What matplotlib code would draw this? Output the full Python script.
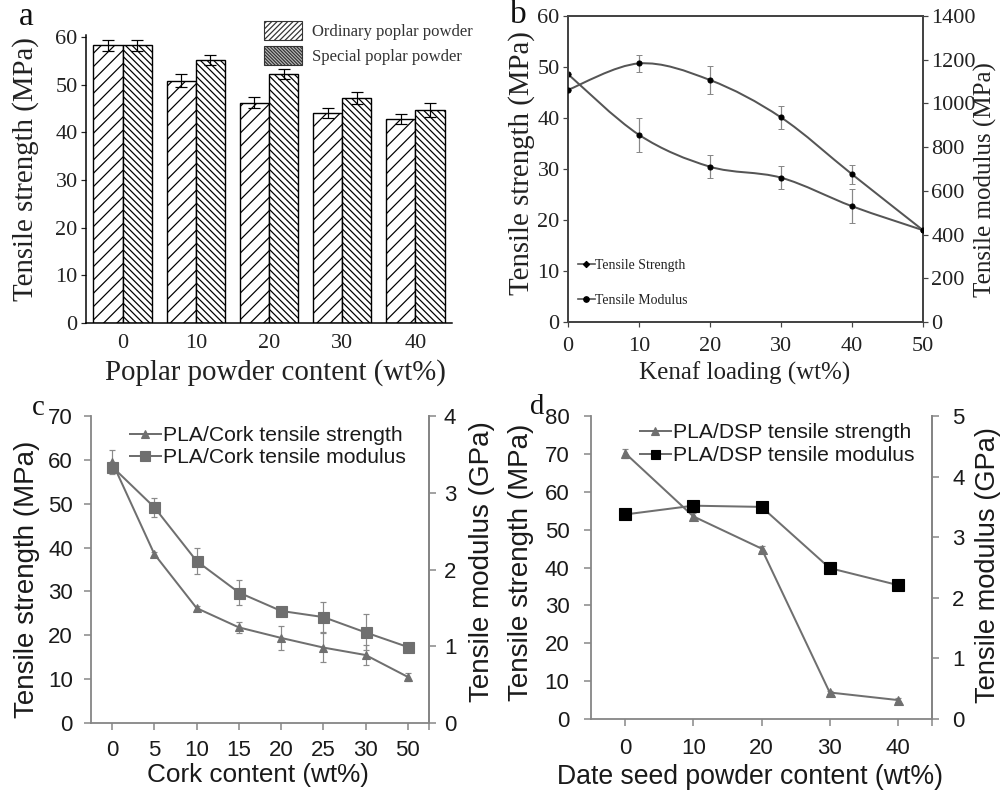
import numpy as np
import matplotlib
matplotlib.use("Agg")
import matplotlib.pyplot as plt
from matplotlib.path import Path
from matplotlib.patches import PathPatch, Patch
from matplotlib.lines import Line2D

# ---------------- data ----------------
# (a) poplar powder
a_categories = ["0", "10", "20", "30", "40"]
a_ordinary = [58.2, 50.8, 46.2, 44.0, 42.8]
a_ordinary_err = [1.2, 1.4, 1.2, 1.1, 1.0]
a_special = [58.2, 55.2, 52.2, 47.2, 44.7]
a_special_err = [1.2, 1.0, 1.0, 1.3, 1.4]
a_yticks = [0, 10, 20, 30, 40, 50, 60]

# (b) kenaf
b_x = [0, 10, 20, 30, 40, 50]
b_strength = [48.6, 36.7, 30.45, 28.3, 22.7, 18.0]
b_strength_err = [0, 3.3, 2.3, 2.3, 3.3, 0]
b_modulus = [1062, 1183, 1107, 936, 676, 420]
b_modulus_err = [0, 37, 65, 51, 44, 0]
b_xticks = [0, 10, 20, 30, 40, 50]
b_yticks = [0, 10, 20, 30, 40, 50, 60]
b_y2ticks = [0, 200, 400, 600, 800, 1000, 1200, 1400]

# (c) cork
c_categories = ["0", "5", "10", "15", "20", "25", "30", "50"]
c_strength = [59.5, 38.5, 26.2, 21.8, 19.4, 17.2, 15.5, 10.5]
c_strength_err = [2.8, 0.5, 0.5, 1.3, 2.7, 3.4, 2.3, 1.0]
c_modulus = [3.34, 2.81, 2.11, 1.70, 1.46, 1.38, 1.18, 0.99]
c_modulus_err = [0.06, 0.125, 0.17, 0.165, 0.045, 0.20, 0.235, 0.035]
c_yticks = [0, 10, 20, 30, 40, 50, 60, 70]
c_y2ticks = [0, 1, 2, 3, 4]

# (d) date seed powder
d_categories = ["0", "10", "20", "30", "40"]
d_strength = [70.2, 53.5, 45.0, 7.0, 5.0]
d_strength_err = [1.2, 0.8, 0.6, 0.5, 0.5]
d_modulus = [3.375, 3.52, 3.50, 2.49, 2.21]
d_yticks = [0, 10, 20, 30, 40, 50, 60, 70, 80]
d_y2ticks = [0, 1, 2, 3, 4, 5]

# ---------------- layout helpers ----------------
W, H, DPI = 1004, 794, 80
PT = 72.0 / DPI  # points per pixel
plt.rcParams["hatch.linewidth"] = 1.1
SERIF = ["Liberation Serif", "DejaVu Serif"]
SANS = ["Liberation Sans", "DejaVu Sans"]

fig = plt.figure(figsize=(W / DPI, H / DPI), dpi=DPI)


def rect(l, t, r, b):
    return [l / W, 1 - b / H, (r - l) / W, (b - t) / H]


def fx(x):
    return x / W


def fy(y):
    return 1 - y / H


def smooth_path(xs, ys):
    """Catmull-Rom curve through the data points, expressed as cubic Beziers."""
    P = np.column_stack([xs, ys]).astype(float)
    n = len(P)
    verts = [tuple(P[0])]
    codes = [Path.MOVETO]
    for i in range(n - 1):
        p0 = P[i - 1] if i > 0 else P[i]
        p1 = P[i]
        p2 = P[i + 1]
        p3 = P[i + 2] if i + 2 < n else P[i + 1]
        c1 = p1 + (p2 - p0) / 6.0
        c2 = p2 - (p3 - p1) / 6.0
        verts += [tuple(c1), tuple(c2), tuple(p2)]
        codes += [Path.CURVE4] * 3
    return Path(verts, codes)


# ================= (a) =================
axa = fig.add_axes(rect(86, 35, 452, 323))
xa = np.arange(len(a_categories))
bw = 0.4
axa.bar(xa - bw / 2, a_ordinary, bw, facecolor="white", edgecolor="black",
        hatch="//", linewidth=1.4 * PT, zorder=2)
axa.bar(xa + bw / 2, a_special, bw, facecolor="white", edgecolor="black",
        hatch="\\" * 4, linewidth=1.4 * PT, zorder=2)
axa.errorbar(xa - bw / 2, a_ordinary, yerr=a_ordinary_err, fmt="none",
             ecolor="black", elinewidth=1.2 * PT, capsize=5, capthick=1.2 * PT, zorder=3)
axa.errorbar(xa + bw / 2, a_special, yerr=a_special_err, fmt="none",
             ecolor="black", elinewidth=1.2 * PT, capsize=5, capthick=1.2 * PT, zorder=3)
axa.set_xlim(-0.5, 4.5)
axa.set_ylim(0, 60.4)
axa.set_xticks(xa)
axa.set_xticklabels(a_categories)
axa.set_yticks(a_yticks)
for s in ["top", "right"]:
    axa.spines[s].set_visible(False)
for s in ["left", "bottom"]:
    axa.spines[s].set_linewidth(1.5 * PT)
axa.tick_params(axis="y", direction="out", length=5 * PT, width=1.2 * PT, pad=3,
                labelsize=20, colors="#222222")
axa.tick_params(axis="x", length=0, pad=10, labelsize=20, colors="#222222")
for lab in axa.get_xticklabels() + axa.get_yticklabels():
    lab.set_family(SERIF)
axa.set_ylabel("Tensile strength (MPa)", family=SERIF, fontsize=26, color="#222222",
               va="center", ha="center")
axa.yaxis.set_label_coords((26 - 86) / 366, (323 - 169) / 288)
axa.set_xlabel("Poplar powder content (wt%)", family=SERIF, fontsize=26, color="#222222",
               va="center", ha="center")
axa.xaxis.set_label_coords((275 - 86) / 366, (323 - 373) / 288)
leg_a = [Patch(facecolor="white", edgecolor="#333333", hatch="/////", linewidth=1.0),
         Patch(facecolor="#bbbbbb", edgecolor="#333333", hatch="\\" * 8, linewidth=1.0)]
la = axa.legend(leg_a, ["Ordinary poplar powder", "Special poplar powder"],
                loc="upper left", bbox_to_anchor=(fx(264), fy(21)),
                bbox_transform=fig.transFigure, frameon=False,
                prop={"family": SERIF, "size": 15}, handlelength=2.3, handleheight=1.4,
                handletextpad=0.6, labelspacing=0.35, borderpad=0, borderaxespad=0)
for t in la.get_texts():
    t.set_color("#333333")

# ================= (b) =================
axb = fig.add_axes(rect(568, 16, 923, 322))
axb2 = axb.twinx()
gray_b = "#555555"
axb.add_patch(PathPatch(smooth_path(b_x, b_strength), facecolor="none",
                        edgecolor=gray_b, linewidth=2.0 * PT, zorder=2))
axb2.add_patch(PathPatch(smooth_path(b_x, b_modulus), facecolor="none",
                         edgecolor=gray_b, linewidth=2.0 * PT, zorder=2))
axb.errorbar(b_x, b_strength, yerr=b_strength_err, fmt="o", color="black",
             markersize=5 * PT, ecolor="#888888", elinewidth=1.2 * PT,
             capsize=2.5, capthick=1.0 * PT, zorder=3)
axb2.errorbar(b_x, b_modulus, yerr=b_modulus_err, fmt="o", color="black",
              markersize=5 * PT, ecolor="#888888", elinewidth=1.2 * PT,
              capsize=2.5, capthick=1.0 * PT, zorder=3)
axb.set_xlim(0, 50)
axb.set_ylim(0, 60)
axb2.set_ylim(0, 1400)
axb.set_xticks(b_xticks)
axb.set_yticks(b_yticks)
axb2.set_yticks(b_y2ticks)
for ax in (axb, axb2):
    for s in ax.spines.values():
        s.set_linewidth(1.8 * PT)
        s.set_color("#444444")
    ax.tick_params(direction="out", length=5 * PT, width=1.2 * PT, colors="#444444",
                   labelcolor="#222222", labelsize=20, pad=3)
    for lab in ax.get_xticklabels() + ax.get_yticklabels():
        lab.set_family(SERIF)
axb.tick_params(axis="x", pad=9)
axb.set_ylabel("Tensile strength (MPa)", family=SERIF, fontsize=26, color="#222222",
               va="center", ha="center")
axb.yaxis.set_label_coords((522 - 568) / 355, (322 - 163) / 306)
axb2.set_ylabel("Tensile modulus (MPa)", family=SERIF, fontsize=22.5, color="#222222",
                va="center", ha="center", rotation=90)
axb2.yaxis.set_label_coords((985 - 568) / 355, (322 - 180) / 306)
axb.set_xlabel("Kenaf loading (wt%)", family=SERIF, fontsize=22.5, color="#222222",
               va="center", ha="center")
axb.xaxis.set_label_coords((745 - 568) / 355, (322 - 373) / 306)
leg_b = [Line2D([], [], color=gray_b, lw=1.5, marker="D", markersize=4, mfc="black", mec="black"),
         Line2D([], [], color=gray_b, lw=1.5, marker="o", markersize=5, mfc="black", mec="black")]
lb = axb.legend(leg_b, ["Tensile Strength", "Tensile Modulus"], loc="upper left",
                bbox_to_anchor=(fx(578), fy(259)), bbox_transform=fig.transFigure,
                frameon=False, prop={"family": SERIF, "size": 12.5},
                handlelength=1.2, handletextpad=0.05, labelspacing=1.6,
                borderpad=0, borderaxespad=0)
for t in lb.get_texts():
    t.set_color("#222222")

# ================= (c) =================
gray = "#6f6f6f"
spine_gray = "#858585"
axc = fig.add_axes(rect(91, 416, 429, 723))
axc2 = axc.twinx()
xc = np.arange(len(c_categories))
axc.errorbar(xc, c_strength, yerr=c_strength_err, color=gray, marker="^",
             markersize=8 * PT, lw=2.0 * PT, ecolor="#8a8a8a", elinewidth=1.2 * PT,
             capsize=3, capthick=1.2 * PT, zorder=3)
axc2.errorbar(xc, c_modulus, yerr=c_modulus_err, color=gray, marker="s",
              markersize=11 * PT, lw=2.0 * PT, ecolor="#8a8a8a", elinewidth=1.2 * PT,
              capsize=3, capthick=1.2 * PT, zorder=3)
axc.set_xlim(-0.5, 7.5)
axc.set_ylim(0, 70)
axc2.set_ylim(0, 4)
axc.set_xticks(xc)
axc.set_xticklabels(c_categories)
axc.set_xticks([7.5], minor=True)
axc.set_yticks(c_yticks)
axc2.set_yticks(c_y2ticks)

# ================= (d) =================
axd = fig.add_axes(rect(591, 416, 932, 719))
axd2 = axd.twinx()
xd = np.arange(len(d_categories))
axd.errorbar(xd, d_strength, yerr=d_strength_err, color=gray, marker="^",
             markersize=9 * PT, lw=2.0 * PT, ecolor="#8a8a8a", elinewidth=1.2 * PT,
             capsize=3, capthick=1.2 * PT, zorder=3)
axd2.plot(xd, d_modulus, color=gray, lw=2.0 * PT, marker="s", markersize=12 * PT,
          mfc="black", mec="black", zorder=3)
axd.set_xlim(-0.5, 4.5)
axd.set_ylim(0, 80)
axd2.set_ylim(0, 5)
axd.set_xticks(xd)
axd.set_xticklabels(d_categories)
axd.set_xticks([4.5], minor=True)
axd.set_yticks(d_yticks)
axd2.set_yticks(d_y2ticks)

for ax in (axc, axc2, axd, axd2):
    ax.spines["top"].set_visible(False)
    for s in ("left", "right", "bottom"):
        ax.spines[s].set_linewidth(1.8 * PT)
        ax.spines[s].set_color(spine_gray)
    ax.tick_params(which="both", direction="out", length=7 * PT, width=1.5 * PT,
                   colors=spine_gray, labelcolor="#1a1a1a", labelsize=20, pad=4)
    for lab in ax.get_xticklabels() + ax.get_yticklabels():
        lab.set_family(SANS)
for ax in (axc2, axd2):
    ax.spines["left"].set_visible(False)
    ax.spines["bottom"].set_visible(False)
axc.tick_params(axis="y", pad=10)
axc2.tick_params(axis="y", pad=7)
axc.tick_params(axis="x", which="both", pad=9)
axd.tick_params(axis="y", pad=13)
axd2.tick_params(axis="y", pad=12)
axd.tick_params(axis="x", which="both", pad=11)

# labels (c)
axc.set_ylabel("Tensile strength (MPa)", family=SANS, fontsize=25, color="#1a1a1a",
               va="center", ha="center")
axc.yaxis.set_label_coords((27 - 91) / 338, (723 - 579) / 307)
axc2.set_ylabel("Tensile modulus (GPa)", family=SANS, fontsize=25, color="#1a1a1a",
                va="center", ha="center", rotation=90)
axc2.yaxis.set_label_coords((482 - 91) / 338, (723 - 562) / 307)
axc.set_xlabel("Cork content (wt%)", family=SANS, fontsize=23.5, color="#1a1a1a",
               va="center", ha="center")
axc.xaxis.set_label_coords((258 - 91) / 338, (723 - 775) / 307)
leg_c = [Line2D([], [], color=gray, lw=2.0 * PT, marker="^", markersize=8 * PT),
         Line2D([], [], color=gray, lw=2.0 * PT, marker="s", markersize=10 * PT)]
lc = axc.legend(leg_c, ["PLA/Cork tensile strength", "PLA/Cork tensile modulus"],
                loc="upper left", bbox_to_anchor=(fx(130), fy(426)),
                bbox_transform=fig.transFigure, frameon=False,
                prop={"family": SANS, "size": 19}, handlelength=1.45,
                handletextpad=0.1, labelspacing=0.15, borderpad=0, borderaxespad=0)
for t in lc.get_texts():
    t.set_color("#1a1a1a")

# labels (d)
axd.set_ylabel("Tensile strength (MPa)", family=SANS, fontsize=25, color="#1a1a1a",
               va="center", ha="center")
axd.yaxis.set_label_coords((521 - 591) / 341, (719 - 562) / 303)
axd2.set_ylabel("Tensile modulus (GPa)", family=SANS, fontsize=24.5, color="#1a1a1a",
                va="center", ha="center", rotation=90)
axd2.yaxis.set_label_coords((988 - 591) / 341, (719 - 565) / 303)
axd.set_xlabel("Date seed powder content (wt%)", family=SANS, fontsize=24, color="#1a1a1a",
               va="center", ha="center")
axd.xaxis.set_label_coords((750 - 591) / 341, (719 - 777) / 303)
leg_d = [Line2D([], [], color=gray, lw=2.0 * PT, marker="^", markersize=8 * PT),
         Line2D([], [], color=gray, lw=2.0 * PT, marker="s", markersize=9 * PT,
                mfc="black", mec="black")]
ld = axd.legend(leg_d, ["PLA/DSP tensile strength", "PLA/DSP tensile modulus"],
                loc="upper left", bbox_to_anchor=(fx(640), fy(423)),
                bbox_transform=fig.transFigure, frameon=False,
                prop={"family": SANS, "size": 19}, handlelength=1.45,
                handletextpad=0.1, labelspacing=0.2, borderpad=0, borderaxespad=0)
for t in ld.get_texts():
    t.set_color("#1a1a1a")

# panel letters
fig.text(fx(19), fy(25), "a", family=SERIF, fontsize=30, color="#111111", va="baseline")
fig.text(fx(510), fy(23), "b", family=SERIF, fontsize=30, color="#111111", va="baseline")
fig.text(fx(32), fy(415), "c", family=SERIF, fontsize=26, color="#111111", va="baseline")
fig.text(fx(530), fy(414), "d", family=SERIF, fontsize=26, color="#111111", va="baseline")

fig.savefig("out.png", dpi=DPI, facecolor="white")
